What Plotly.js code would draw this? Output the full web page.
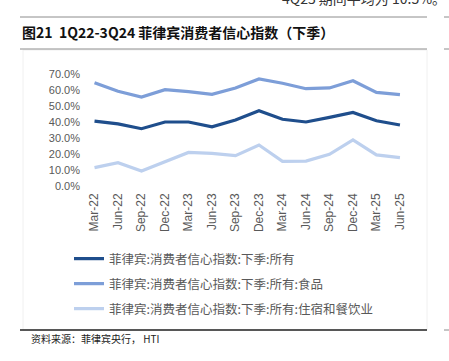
<!DOCTYPE html>
<html>
<head>
<meta charset="utf-8">
<script src="https://cdn.plot.ly/plotly-3.0.1.min.js"></script>
<style>
html,body{margin:0;padding:0;background:#fff;}
#chart{width:449px;height:361px;}
</style>
</head>
<body>
<div id="chart"></div>
<script>
// ---- data ----
var categories = ["Mar-22","Jun-22","Sep-22","Dec-22","Mar-23","Jun-23","Sep-23","Dec-23","Mar-24","Jun-24","Sep-24","Dec-24","Mar-25","Jun-25"];
var seriesNames = [
  "菲律宾:消费者信心指数:下季:所有",
  "菲律宾:消费者信心指数:下季:所有:食品",
  "菲律宾:消费者信心指数:下季:所有:住宿和餐饮业"
];
var allValues   = [40.6, 38.8, 35.8, 40.0, 40.0, 37.0, 41.2, 47.0, 41.7, 40.0, 42.9, 46.0, 40.8, 38.1];
var foodValues  = [64.6, 59.2, 55.6, 60.2, 59.0, 57.3, 61.3, 66.9, 64.2, 60.8, 61.3, 65.8, 58.5, 57.1];
var hotelValues = [11.5, 14.6, 9.4, 15.0, 21.0, 20.4, 19.0, 25.6, 15.4, 15.6, 19.8, 28.8, 19.4, 17.7];
var yTickVals = [0, 10, 20, 30, 40, 50, 60, 70];
var yTickText = ["0.0%", "10.0%", "20.0%", "30.0%", "40.0%", "50.0%", "60.0%", "70.0%"];
var titleText = "图21  1Q22-3Q24 菲律宾消费者信心指数（下季）";
var sourceText = "资料来源：菲律宾央行， HTI";
var topText = "4Q25 期间平均为 10.5%。";

// ---- geometry ----
var W = 449, H = 361;
var L = 91, R = 403, T = 74, B = 186;
function px(x){ return (x - L) / (R - L); }
function py(y){ return (B - y) / (B - T); }

var colors = ["#1F4E8C", "#7D9ED8", "#BDD0EE"];
var values = [allValues, foodValues, hotelValues];
var legendIds = ["legend", "legend2", "legend3"];
var traces = values.map(function(v, i){
  return {
    x: categories.map(function(c, k){ return k; }),
    y: v,
    type: "scatter",
    mode: "lines",
    name: seriesNames[i],
    line: {color: colors[i], width: 3.2},
    legend: legendIds[i],
    hoverinfo: "skip"
  };
});

var legendFont = {family: "Noto Sans CJK SC", size: 12.5, color: "#595959"};
var legendY = [259, 284, 309];
function mkLegend(i){
  return {
    xref: "container", yref: "container",
    x: 69 / W, y: 1 - legendY[i] / H,
    xanchor: "left", yanchor: "middle",
    font: legendFont, bgcolor: "rgba(0,0,0,0)", borderwidth: 0,
    itemwidth: 30
  };
}

var xr = [-0.15, 13.13];
var tickShift = categories.map(function(c, k){ return k - 0.15; });

var layout = {
  width: W, height: H,
  margin: {l: L, r: W - R, t: T, b: H - B, pad: 0, autoexpand: false},
  paper_bgcolor: "#ffffff",
  plot_bgcolor: "#ffffff",
  showlegend: true,
  legend: mkLegend(0), legend2: mkLegend(1), legend3: mkLegend(2),
  xaxis: {
    type: "linear", range: xr,
    tickmode: "array",
    tickvals: categories.map(function(c, k){ return k; }),
    ticktext: categories,
    tickangle: -90,
    ticks: "",
    showgrid: false, zeroline: false, showline: false,
    tickfont: {family: "Liberation Sans", size: 12, color: "#595959"},
    ticklabelstandoff: 4
  },
  xaxis2: {
    overlaying: "x", anchor: "y", side: "bottom",
    type: "linear", range: xr,
    tickmode: "array", tickvals: tickShift,
    ticks: "outside", ticklen: 4, tickcolor: "#d9d9d9", tickwidth: 1,
    showticklabels: false,
    showgrid: false, zeroline: false,
    showline: true, linecolor: "#d9d9d9", linewidth: 1
  },
  yaxis: {
    range: [0, 70],
    tickmode: "array", tickvals: yTickVals, ticktext: yTickText,
    ticks: "", showgrid: false, zeroline: false, showline: false,
    tickfont: {family: "Liberation Sans", size: 11, color: "#595959"},
    ticklabelstandoff: 10
  },
  annotations: [
    {xref: "paper", yref: "paper", x: px(20), y: py(32), xanchor: "left", yanchor: "middle",
     text: "<b>" + titleText + "</b>", showarrow: false,
     font: {family: "Noto Sans CJK SC", size: 14, color: "#111111"}},
    {xref: "paper", yref: "paper", x: px(29), y: py(338), xanchor: "left", yanchor: "middle",
     text: sourceText, showarrow: false,
     font: {family: "Noto Sans CJK SC", size: 10, color: "#222222"}},
    {xref: "paper", yref: "paper", x: px(448), y: py(-2), xanchor: "right", yanchor: "middle",
     text: topText, showarrow: false,
     font: {family: "Noto Sans CJK SC", size: 14, color: "#333333"}}
  ],
  shapes: [
    {type: "rect", xref: "paper", yref: "paper", x0: px(23), x1: px(427), y0: py(50), y1: py(330),
     line: {color: "#f0f0f0", width: 1}, layer: "below"},
    {type: "line", xref: "paper", yref: "paper", x0: px(20), x1: px(427), y0: py(17), y1: py(17),
     line: {color: "#8c8c8c", width: 1}},
    {type: "line", xref: "paper", yref: "paper", x0: px(444), x1: px(449), y0: py(17), y1: py(17),
     line: {color: "#8c8c8c", width: 1}},
    {type: "line", xref: "paper", yref: "paper", x0: px(20), x1: px(427), y0: py(49), y1: py(49),
     line: {color: "#8c8c8c", width: 1}},
    {type: "line", xref: "paper", yref: "paper", x0: px(444), x1: px(449), y0: py(49), y1: py(49),
     line: {color: "#8c8c8c", width: 1}},
    {type: "line", xref: "paper", yref: "paper", x0: px(20), x1: px(427), y0: py(330), y1: py(330),
     line: {color: "#222222", width: 1.5}},
    {type: "line", xref: "paper", yref: "paper", x0: px(444), x1: px(449), y0: py(330), y1: py(330),
     line: {color: "#8c8c8c", width: 1}}
  ]
};

Plotly.newPlot("chart", traces, layout, {staticPlot: true, displayModeBar: false});
</script>
</body>
</html>
